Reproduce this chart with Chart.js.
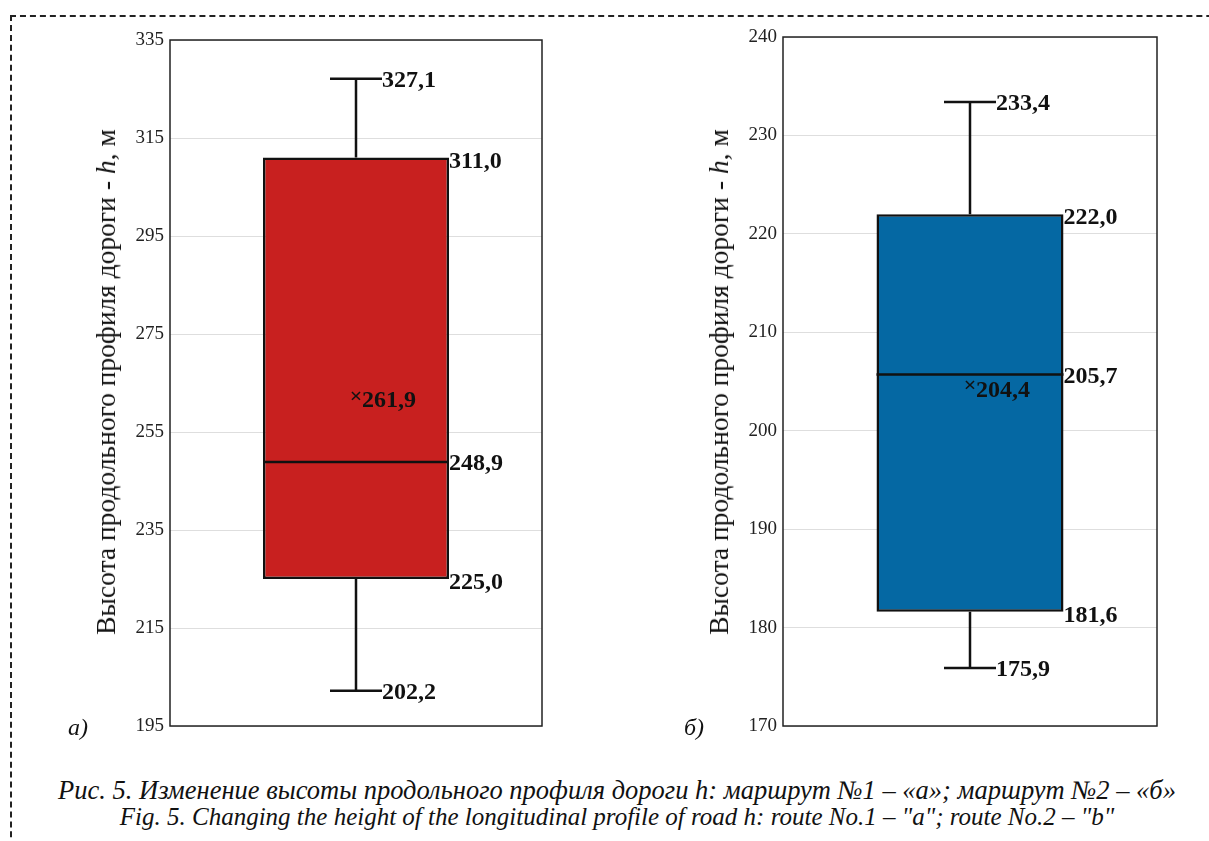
<!DOCTYPE html>
<html>
<head>
<meta charset="utf-8">
<script src="https://cdn.jsdelivr.net/npm/chart.js@4.4.1/dist/chart.umd.min.js"></script>
<style>
  body { margin: 0; background: #fff; font-family: "Liberation Serif", serif; }
  #page { position: relative; width: 1209px; height: 841px; overflow: hidden; }
  #frame { position: absolute; left: 10px; top: 15px; width: 1300px; height: 900px;
    border-top: 2px dashed #222; border-left: 2px dashed #222; }
  canvas { position: absolute; top: 0; }
  .ytitle { position: absolute; white-space: nowrap; font-size: 27.5px; color: #111;
    transform: translate(-50%, -50%) rotate(-90deg); }
  .panel { position: absolute; font-size: 24px; font-style: italic; color: #111; }
  .caption { position: absolute; left: 0; width: 1234px; text-align: center;
    line-height: 26px; font-style: italic; color: #111; white-space: nowrap; }
</style>
</head>
<body>
<div id="page">
  <div id="frame"></div>
  <canvas id="routeA" width="600" height="760" style="left:0"></canvas>
  <canvas id="routeB" width="609" height="760" style="left:600px"></canvas>
  <div class="ytitle" style="left:106px; top:382px">Высота продольного профиля дороги - <i>h</i>, м</div>
  <div class="ytitle" style="left:719px; top:382px">Высота продольного профиля дороги - <i>h</i>, м</div>
  <div class="panel" style="left:68px; top:714px">а)</div>
  <div class="panel" style="left:684px; top:714px">б)</div>
  <div class="caption" style="top:777px; font-size:26.5px">Рис. 5. Изменение высоты продольного профиля дороги h: маршрут №1 – «а»; маршрут №2 – «б»</div>
  <div class="caption" style="top:804px; font-size:25px">Fig. 5. Changing the height of the longitudinal profile of road h: route No.1 – "a"; route No.2 – "b"</div>
</div>
<script>
// route 1 ("а") - min, q1, median, q3, max, mean
const routeAStats = [202.2, 225.0, 248.9, 311.0, 327.1, 261.9];
const routeATicks = [195, 335, 20];
// route 2 ("б")
const routeBStats = [175.9, 181.6, 205.7, 222.0, 233.4, 204.4];
const routeBTicks = [170, 240, 10];

const fmt = v => v.toFixed(1).replace(".", ",");

const boxParts = {
  id: "boxParts",
  beforeDatasetsDraw(chart) {
    const { ctx, chartArea: a } = chart;
    ctx.save();
    ctx.strokeStyle = "#222";
    ctx.lineWidth = 1.5;
    ctx.strokeRect(a.left, a.top, a.right - a.left, a.bottom - a.top);
    ctx.restore();
  },
  afterDatasetsDraw(chart, args, opts) {
    const { ctx } = chart;
    const y = chart.scales.y;
    const bar = chart.getDatasetMeta(0).data[0];
    const [mn, q1, med, q3, mx, mean] = opts.stats;
    const cx = bar.x;
    const right = bar.x + bar.width / 2;
    const left = bar.x - bar.width / 2;
    const cap = 26;

    ctx.save();
    ctx.strokeStyle = "#111";
    ctx.lineWidth = 2.5;
    ctx.beginPath();
    ctx.moveTo(cx, y.getPixelForValue(q3));
    ctx.lineTo(cx, y.getPixelForValue(mx));
    ctx.moveTo(cx - cap, y.getPixelForValue(mx));
    ctx.lineTo(cx + cap, y.getPixelForValue(mx));
    ctx.moveTo(cx, y.getPixelForValue(q1));
    ctx.lineTo(cx, y.getPixelForValue(mn));
    ctx.moveTo(cx - cap, y.getPixelForValue(mn));
    ctx.lineTo(cx + cap, y.getPixelForValue(mn));
    ctx.moveTo(left, y.getPixelForValue(med));
    ctx.lineTo(right, y.getPixelForValue(med));
    ctx.stroke();

    ctx.fillStyle = "#111";
    ctx.textBaseline = "middle";
    ctx.textAlign = "left";
    ctx.font = "bold 24px 'Liberation Serif'";
    ctx.fillText(fmt(mx), cx + cap, y.getPixelForValue(mx) + 2);
    ctx.fillText(fmt(mn), cx + cap, y.getPixelForValue(mn) + 2);
    ctx.fillText(fmt(q3), right, y.getPixelForValue(q3) + 4);
    ctx.fillText(fmt(q1), right, y.getPixelForValue(q1) + 4);
    ctx.fillText(fmt(med), right, y.getPixelForValue(med) + 2);

    const my = y.getPixelForValue(mean);
    ctx.font = "bold 22px 'Liberation Serif'";
    ctx.textAlign = "center";
    ctx.fillText("×", cx, my - 1);
    ctx.textAlign = "left";
    ctx.font = "bold 24px 'Liberation Serif'";
    ctx.fillText(fmt(mean), cx + 6, my + 3);
    ctx.restore();
  }
};

function makeBox(id, stats, ticks, color, pad) {
  const [lo, hi, step] = ticks;
  return new Chart(document.getElementById(id), {
    type: "bar",
    data: {
      labels: [""],
      datasets: [{
        data: [[stats[1], stats[3]]],
        backgroundColor: color,
        borderColor: "#111",
        borderWidth: 2.5,
        borderSkipped: false,
        categoryPercentage: 1,
        barPercentage: 0.5
      }]
    },
    options: {
      responsive: false,
      animation: false,
      layout: { padding: pad },
      plugins: {
        legend: { display: false },
        tooltip: { enabled: false },
        boxParts: { stats: stats }
      },
      scales: {
        x: { display: false },
        y: {
          min: lo,
          max: hi,
          afterFit: s => { s.width = pad.axis; },
          ticks: {
            stepSize: step,
            padding: 6,
            color: "#222",
            font: { family: "Liberation Serif", size: 19 }
          },
          grid: { color: "#dedede", lineWidth: 1, drawTicks: false },
          border: { display: false }
        }
      }
    },
    plugins: [boxParts]
  });
}

makeBox("routeA", routeAStats, routeATicks, "#c8201f",
  { top: 40, bottom: 34, left: 0, right: 58, axis: 170 });
makeBox("routeB", routeBStats, routeBTicks, "#0568a3",
  { top: 37, bottom: 34, left: 0, right: 52, axis: 183 });
</script>
</body>
</html>
